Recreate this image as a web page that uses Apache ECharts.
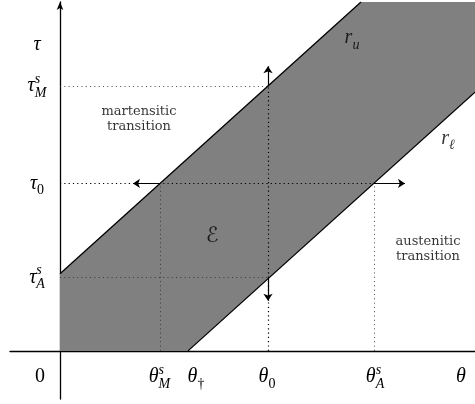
<!DOCTYPE html>
<html><head><meta charset="utf-8">
<script src="https://cdn.jsdelivr.net/npm/echarts@6/dist/echarts.min.js"></script>
<style>html,body{margin:0;padding:0;background:#fff}#c{width:475px;height:404px}</style>
</head><body><div id="c"></div>
<script>
// ---- data (in data units) ----
const upperLine = [[0, 7.7], [30.1, 34.8]];           // r_u
const lowerLine = [[12.8, 0], [41.5, 25.8]];          // r_ℓ
const bandPolygon = [[0, 0], [0, 7.7], [30.1, 34.8], [41.5, 34.8], [41.5, 25.8], [12.8, 0]]; // 𝓔
const strongDotted = [
  [[0, 16.7], [31.4, 16.7]],   // τ0 level
  [[20.8, 0], [20.8, 26.4]]    // θ0 level
];
const lightDotted = [
  [[0, 26.4], [20.8, 26.4]],   // τ_M^s
  [[0, 7.3], [20.8, 7.3]],     // τ_A^s
  [[10.0, 0], [10.0, 16.7]],   // θ_M^s
  [[31.4, 0], [31.4, 16.7]]    // θ_A^s
];
const arrowSegments = [
  [[10.0, 16.7], [7.3, 16.7]],
  [[31.4, 16.7], [34.5, 16.7]],
  [[20.8, 26.4], [20.8, 28.4]],
  [[20.8, 7.3], [20.8, 5.0]]
];
const xTickValues = [-2.0, 9.95, 13.6, 20.7, 31.5, 40.1];
const xTickLabels = ['{n|0}', '{m|θ}{sup|s}{sub|M}', '{m|θ}{subr|†}', '{m|θ}{subr|0}', '{m|θ}{sup|s}{sub|A}', '{m|θ}'];
const yTickValues = [30.5, 26.4, 16.7, 7.3];
const yTickLabels = ['{m|τ}', '{m|τ}{sup|s}{sub|M}', '{m|τ}{subr|0}', '{m|τ}{sup|s}{sub|A}'];
const annotationPoints = [[29.2, 31.2], [38.8, 21.2], [15.2, 11.4], [7.9, 23.1], [36.8, 10.1]];
const annotationTexts = ['{m|r}{sub|u}', '{m|r}{sub|ℓ}', '{e|ℰ}', '{t|martensitic}\n{t|transition}', '{t|austenitic}\n{t|transition}'];

// ---- styles ----
const MATH = "'Liberation Serif', 'DejaVu Serif', serif";
const rich = {
  m: {fontFamily: MATH, fontStyle: 'italic', fontSize: 20, lineHeight: 28, align: 'left', color: '#000'},
  n: {fontFamily: MATH, fontSize: 20, lineHeight: 28, align: 'left', color: '#000'},
  sup: {fontFamily: MATH, fontStyle: 'italic', fontSize: 14, lineHeight: 14, verticalAlign: 'top', align: 'left', width: 0, color: '#000'},
  sub: {fontFamily: MATH, fontStyle: 'italic', fontSize: 14, lineHeight: 16, verticalAlign: 'bottom', align: 'left', color: '#000'},
  subr: {fontFamily: MATH, fontSize: 14, lineHeight: 17, verticalAlign: 'bottom', align: 'left', color: '#000'},
  e: {fontFamily: "'DejaVu Serif', 'DejaVu Sans', serif", fontStyle: 'italic', fontSize: 21, color: '#000'},
  t: {fontFamily: "'DejaVu Serif', serif", fontSize: 13, lineHeight: 15, color: '#000'}
};
function pick(values, labels, v) {
  let best = 0;
  for (let i = 1; i < values.length; i++) if (Math.abs(values[i] - v) < Math.abs(values[best] - v)) best = i;
  return labels[best];
}

const chart = echarts.init(document.getElementById('c'), null, {renderer: 'canvas'});
chart.setOption({
  animation: false,
  backgroundColor: '#fff',
  grid: {left: 10, right: 0, top: 2, bottom: 5, containLabel: false, outerBoundsMode: 'none'},
  xAxis: {
    type: 'value', min: -5, max: 41.5,
    axisLine: {show: true, onZero: true, lineStyle: {color: '#000', width: 1.3}},
    axisTick: {show: false}, splitLine: {show: false},
    axisLabel: {customValues: xTickValues, margin: -36, formatter: v => pick(xTickValues, xTickLabels, v), rich: rich}
  },
  yAxis: {
    type: 'value', min: -4.8, max: 34.8,
    axisLine: {show: true, onZero: true, symbol: ['none', 'arrow'], symbolSize: [5, 8], lineStyle: {color: '#000', width: 1.3}},
    axisTick: {show: false}, splitLine: {show: false},
    axisLabel: {customValues: yTickValues, margin: -27, align: 'center', formatter: v => pick(yTickValues, yTickLabels, v), rich: rich}
  },
  series: [
    {
      type: 'custom', coordinateSystem: 'cartesian2d', silent: true, z: 1,
      data: [[0, 0]],
      renderItem: (params, api) => ({
        type: 'polygon',
        shape: {points: bandPolygon.map(p => api.coord(p))},
        style: {fill: '#808080'}
      })
    },
    {
      type: 'lines', coordinateSystem: 'cartesian2d', z: 2, silent: true,
      symbol: 'none',
      lineStyle: {color: '#000', width: 1.2, type: [1.2, 3.1], opacity: 1},
      data: strongDotted.map(c => ({coords: c}))
    },
    {
      type: 'lines', coordinateSystem: 'cartesian2d', z: 2, silent: true,
      symbol: 'none',
      lineStyle: {color: '#333', width: 0.9, type: [1, 3.3], opacity: 1},
      data: lightDotted.map(c => ({coords: c}))
    },
    {
      type: 'line', z: 3, silent: true, showSymbol: false, symbol: 'none',
      lineStyle: {color: '#000', width: 1.3}, data: upperLine
    },
    {
      type: 'line', z: 3, silent: true, showSymbol: false, symbol: 'none',
      lineStyle: {color: '#000', width: 1.3}, data: lowerLine
    },
    {
      type: 'lines', coordinateSystem: 'cartesian2d', z: 4, silent: true,
      symbol: ['none', 'arrow'], symbolSize: 7,
      lineStyle: {color: '#000', width: 1.2, opacity: 1},
      data: arrowSegments.map(c => ({coords: c}))
    },
    {
      type: 'scatter', z: 5, silent: true, symbolSize: 1,
      itemStyle: {color: 'rgba(0,0,0,0)'},
      label: {show: true, position: 'inside', rich: rich,
        formatter: p => annotationTexts[p.dataIndex]},
      data: annotationPoints
    }
  ]
});
</script></body></html>
